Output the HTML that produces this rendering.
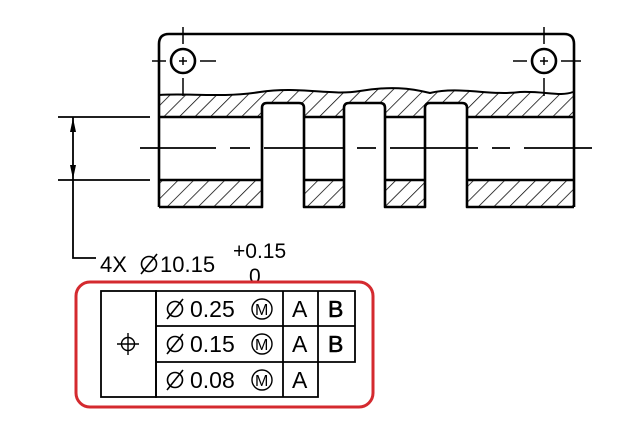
<!DOCTYPE html>
<html><head><meta charset="utf-8"><style>
html,body{margin:0;padding:0;background:#fff;}
svg{display:block;}
text{font-family:"Liberation Sans",Arial,sans-serif;fill:#000;}
</style></head><body>
<svg width="623" height="426" viewBox="0 0 623 426" xmlns="http://www.w3.org/2000/svg">
<defs>
<pattern id="h" patternUnits="userSpaceOnUse" width="11" height="11" patternTransform="rotate(45)">
<line x1="0" y1="0" x2="0" y2="11" stroke="#000" stroke-width="1.5"/>
</pattern>
<g id="dia"><circle cx="0" cy="0" r="7.5" fill="none" stroke="#000" stroke-width="1.6"/><line x1="-8" y1="10" x2="8" y2="-10" stroke="#000" stroke-width="1.6"/></g>
</defs>
<g fill="url(#h)" stroke="none">
<path d="M159 95 C190 93 220 98 260 92 C300 86 330 96 360 91 C390 86 410 88 430 93 C460 86 490 96 520 92 C545 91 560 97 573 92 L573 117 L159 117 Z"/>
<rect x="159" y="180" width="103" height="27"/>
<rect x="304" y="180" width="40" height="27"/>
<rect x="385" y="180" width="40" height="27"/>
<rect x="467" y="180" width="106" height="27"/>
</g>
<g fill="#fff" stroke="none">
<path d="M262 117 L262 108 Q262 103 267 103 L299 103 Q304 103 304 108 L304 117 Z"/>
<path d="M344 117 L344 108 Q344 103 349 103 L380 103 Q385 103 385 108 L385 117 Z"/>
<path d="M425 117 L425 108 Q425 103 430 103 L462 103 Q467 103 467 108 L467 117 Z"/>
</g>
<g fill="none" stroke="#000" stroke-width="2.6" stroke-linejoin="round">
<path d="M159 207 L159 44 Q159 34 169 34 L564 34 Q574 34 574 44 L574 207"/>
<path d="M159 95 C190 93 220 98 260 92 C300 86 330 96 360 91 C390 86 410 88 430 93 C460 86 490 96 520 92 C545 91 560 97 573 92" stroke-width="2"/>
<line x1="159" y1="117" x2="262" y2="117"/>
<line x1="304" y1="117" x2="344" y2="117"/>
<line x1="385" y1="117" x2="425" y2="117"/>
<line x1="467" y1="117" x2="574" y2="117"/>
<line x1="159" y1="180" x2="262" y2="180"/>
<line x1="304" y1="180" x2="344" y2="180"/>
<line x1="385" y1="180" x2="425" y2="180"/>
<line x1="467" y1="180" x2="574" y2="180"/>
<path d="M159 207 L262 207 L262 108 Q262 103 267 103 L299 103 Q304 103 304 108 L304 207 L344 207 L344 108 Q344 103 349 103 L380 103 Q385 103 385 108 L385 207 L425 207 L425 108 Q425 103 430 103 L462 103 Q467 103 467 108 L467 207 L574 207"/>
<circle cx="183" cy="61" r="12"/>
<circle cx="544" cy="61" r="12"/>
</g>
<g stroke="#000" stroke-width="1.5" fill="none">
<line x1="183" y1="27" x2="183" y2="44"/><line x1="183" y1="57" x2="183" y2="65"/><line x1="183" y1="78" x2="183" y2="96"/>
<line x1="152" y1="61" x2="166" y2="61"/><line x1="179" y1="61" x2="187" y2="61"/><line x1="200" y1="61" x2="216" y2="61"/>
<line x1="544" y1="27" x2="544" y2="44"/><line x1="544" y1="57" x2="544" y2="65"/><line x1="544" y1="78" x2="544" y2="96"/>
<line x1="513" y1="61" x2="527" y2="61"/><line x1="540" y1="61" x2="548" y2="61"/><line x1="561" y1="61" x2="581" y2="61"/>
<path d="M140 148 H216 M230 148 H250 M264 148 H345 M357 148 H376 M390 148 H478 M492 148 H510 M524 148 H592" stroke-width="1.8"/>
<line x1="58" y1="117" x2="150" y2="117" stroke-width="1.8"/>
<line x1="58" y1="180" x2="150" y2="180" stroke-width="1.8"/>
<path d="M73 117 V258 H96" stroke-width="1.8"/>
</g>
<path d="M73 118 L70 132 L76 132 Z M73 179 L70 165 L76 165 Z" fill="#000"/>
<text x="100" y="272" font-size="22">4X</text>
<use href="#dia" x="149" y="264"/>
<text x="160" y="272" font-size="22">10.15</text>
<text x="233" y="258" font-size="21">+0.15</text>
<text x="249" y="283" font-size="21">0</text>
<rect x="76" y="282" width="297" height="125" rx="14" fill="none" stroke="#d42a2f" stroke-width="3"/>
<g stroke="#000" stroke-width="1.8" fill="none">
<rect x="101" y="291" width="55" height="106"/>
<path d="M156 291 H355 V362 H318 V397 H156 Z"/>
<line x1="156" y1="326" x2="355" y2="326"/>
<line x1="156" y1="362" x2="318" y2="362"/>
<line x1="283" y1="291" x2="283" y2="397"/>
<line x1="318" y1="291" x2="318" y2="362"/>
<circle cx="128" cy="344" r="6.5" stroke-width="1.4"/>
<path d="M117 344 H139 M128 333 V355" stroke-width="1.4"/>
<circle cx="262" cy="309" r="10" stroke-width="1.4"/>
<circle cx="262" cy="344" r="10" stroke-width="1.4"/>
<circle cx="262" cy="380" r="10" stroke-width="1.4"/>
</g>
<use href="#dia" x="175" y="309"/>
<use href="#dia" x="175" y="344"/>
<use href="#dia" x="175" y="380"/>
<g font-size="23">
<text x="190" y="317">0.25</text>
<text x="190" y="352">0.15</text>
<text x="190" y="388">0.08</text>
<text x="255" y="315" font-size="16">M</text>
<text x="255" y="350" font-size="16">M</text>
<text x="255" y="386" font-size="16">M</text>
<text x="292" y="317">A</text>
<text x="292" y="352">A</text>
<text x="292" y="388">A</text>
<text x="328" y="317" stroke="#000" stroke-width="0.6">B</text>
<text x="328" y="352" stroke="#000" stroke-width="0.6">B</text>
</g>
</svg>
</body></html>
